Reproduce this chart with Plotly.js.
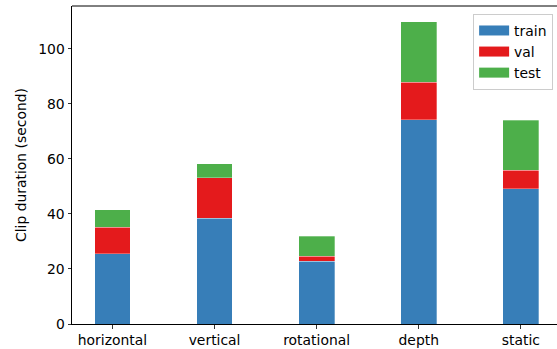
<!DOCTYPE html>
<html><head><meta charset="utf-8">
<script src="https://cdn.plot.ly/plotly-3.0.1.min.js"></script>
<style>html,body{margin:0;padding:0;background:#fff}#chart{width:557px;height:349px}</style>
</head><body><div id="chart"></div>
<script>
const categories = ["horizontal", "vertical", "rotational", "depth", "static"];
const trainValues = [25.6, 38.5, 22.9, 74.2, 49.1];
const valValues = [9.6, 14.6, 1.8, 13.7, 6.8];
const testValues = [6.3, 5.2, 7.2, 21.9, 18.2];
const seriesNames = ["train", "val", "test"];
const seriesColors = ["#377eb8", "#e41a1c", "#4daf4a"];
const yTicks = [0, 20, 40, 60, 80, 100];

const allSeries = [trainValues, valValues, testValues];
const xIdx = categories.map((c, i) => i);
const traces = [];
allSeries.forEach((vals, k) => {
  traces.push({
    type: "bar", x: xIdx, y: vals, width: 0.35,
    marker: {color: seriesColors[k], line: {width: 0.6, color: "rgba(255,255,255,0.5)"}},
    showlegend: false, name: seriesNames[k], hoverinfo: "skip"
  });
});
allSeries.forEach((vals, k) => {
  traces.push({
    type: "scatter", mode: "lines", x: [null], y: [null],
    line: {color: seriesColors[k], width: 10},
    name: seriesNames[k], showlegend: true
  });
});

const FS = 13.9;
const layout = {
  width: 557, height: 349,
  margin: {l: 71.5, r: 0, t: 6, b: 25, pad: 0},
  barmode: "stack",
  paper_bgcolor: "#fff", plot_bgcolor: "#fff",
  font: {family: "DejaVu Sans", size: FS, color: "#000"},
  xaxis: {
    range: [-0.396, 4.354], tickvals: xIdx, ticktext: categories,
    ticks: "outside", ticklen: 3.5, tickwidth: 0.8, tickcolor: "#000",
    showgrid: false, zeroline: false, showline: true, linecolor: "#000", linewidth: 1,
    tickfont: {size: FS}
  },
  yaxis: {
    range: [0, 115.6], tickvals: yTicks,
    ticks: "outside", ticklen: 3.5, tickwidth: 0.8, tickcolor: "#000",
    showgrid: false, zeroline: false, showline: true, linecolor: "#000", linewidth: 1,
    tickfont: {size: FS},
    title: {text: "Clip duration (second)", font: {size: FS}, standoff: 8}
  },
  legend: {
    x: 0.992, y: 0.975, xanchor: "right", yanchor: "top", traceorder: "normal",
    bordercolor: "#cccccc", borderwidth: 1, bgcolor: "rgba(255,255,255,0.8)",
    font: {size: FS}, itemwidth: 30
  },
  shapes: [{type: "line", xref: "paper", yref: "paper", x0: 0, x1: 1, y0: 1, y1: 1, line: {color: "#000", width: 1}}]
};
Plotly.newPlot("chart", traces, layout, {displayModeBar: false, staticPlot: true});
</script></body></html>
